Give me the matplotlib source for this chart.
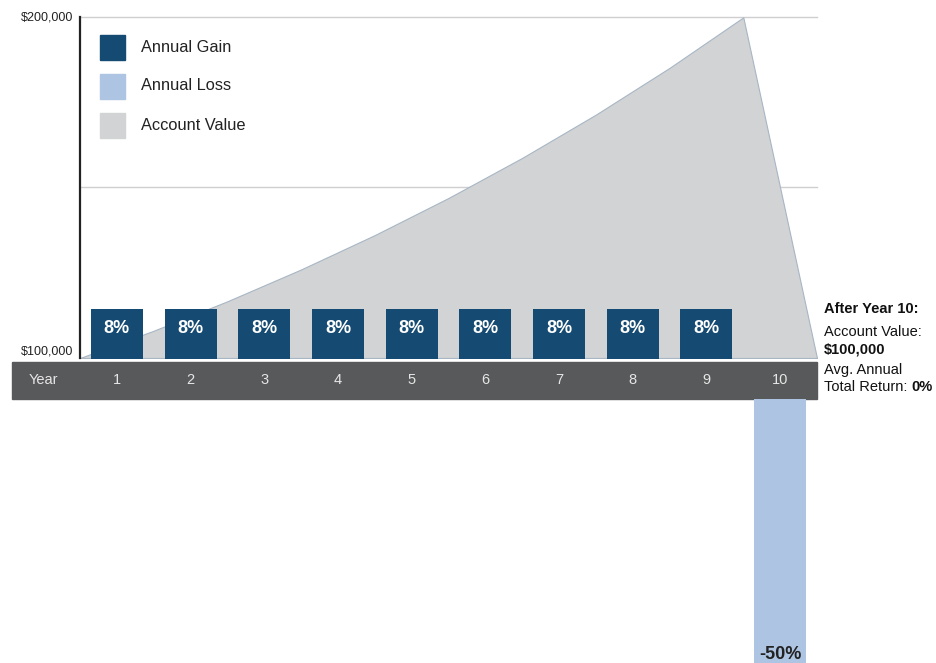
import matplotlib.pyplot as plt
import matplotlib.patches as mpatches
import numpy as np

plt.rcParams['font.family'] = ['Liberation Sans', 'DejaVu Sans']

# ── Data ──────────────────────────────────────────────────────────────────────
YEARS = [1, 2, 3, 4, 5, 6, 7, 8, 9, 10]
RETURNS = [8, 8, 8, 8, 8, 8, 8, 8, 8, -50]
ACCOUNT_VALUE = [100000, 108000, 116640, 125971, 136049, 146933,
                 158687, 171382, 185093, 199900, 99950]
Y_TICKS = [100000, 150000, 200000]
Y_TICK_LABELS = ["$100,000", "", "$200,000"]
LEGEND_LABELS = ["Annual Gain", "Annual Loss", "Account Value"]

GAIN_COLOR = "#154a72"
LOSS_COLOR = "#adc4e2"
AREA_COLOR = "#d1d3d5"
BAND_COLOR = "#58595b"

W, H = 937, 663
fig = plt.figure(figsize=(W / 100, H / 100), dpi=100)


def px_axes(x0, y0, x1, y1, **kw):
    """Axes placed by pixel box (top-left origin)."""
    return fig.add_axes([x0 / W, 1 - y1 / H, (x1 - x0) / W, (y1 - y0) / H], **kw)


# ── Account value area ────────────────────────────────────────────────────────
ax = px_axes(80, 17, 817, 358)
x_edges = np.arange(len(ACCOUNT_VALUE))
ax.fill_between(x_edges, Y_TICKS[0], ACCOUNT_VALUE, color=AREA_COLOR,
                edgecolor="#a8b6c4", linewidth=0.8, zorder=2)
ax.set_xlim(0, 10)
ax.set_ylim(100000, 200000)
for v in Y_TICKS[1:]:
    ax.axhline(v, color="#cfcfcf", linewidth=1.0, zorder=1, clip_on=False)
ax.set_xticks([])
ax.set_yticks([])
for s in ["top", "right", "bottom"]:
    ax.spines[s].set_visible(False)
ax.spines["left"].set_linewidth(1.6)
ax.spines["left"].set_color("#222222")
ax.patch.set_alpha(0)
ax.text(-0.09, Y_TICKS[0], Y_TICK_LABELS[0], ha="right", va="bottom",
        fontsize=9, color="#222222")
ax.text(-0.09, Y_TICKS[2], Y_TICK_LABELS[2], ha="right", va="center",
        fontsize=9, color="#222222")

# ── Year band and return bars (percent scale) ────────────────────────────────
bx = px_axes(80, 0, 817, H)
px_per_pct = 50 / 8
bx.set_xlim(0, 10)
bx.set_ylim(-(H - 359) / px_per_pct, 359 / px_per_pct)
bx.axis("off")
bx.patch.set_alpha(0)

band_top = -3 / px_per_pct
band_bot = -40 / px_per_pct
bx.add_patch(mpatches.Rectangle((-68 / 73.6, band_bot), 10 + 68 / 73.6,
                                band_top - band_bot, color=BAND_COLOR,
                                clip_on=False, zorder=1))
band_mid = (band_top + band_bot) / 2
bx.text(-37 / 73.6, band_mid, "Year", ha="center", va="center",
        color="#e6e6e6", fontsize=10.5)

centers = np.array(YEARS) - 0.5
for c, yr, r in zip(centers, YEARS, RETURNS):
    bx.text(c, band_mid, str(yr), ha="center", va="center",
            color="#e6e6e6", fontsize=10.5)
    if r > 0:
        bx.bar(c, r, width=52 / 73.6, bottom=0, color=GAIN_COLOR, zorder=3)
        bx.text(c, r - 1.7, f"{r}%", ha="center", va="top", color="white",
                fontsize=13, fontweight="bold", zorder=4)
    else:
        bx.bar(c, r, width=52 / 73.6, bottom=band_bot, color=LOSS_COLOR,
               zorder=3)
        bx.text(c, bx.get_ylim()[0], f"{r}%", ha="center",
                va="bottom", color="#222222", fontsize=13,
                fontweight="bold", zorder=4)

# ── Legend (square swatches) ─────────────────────────────────────────────────
for i, (lab, col) in enumerate(zip(LEGEND_LABELS,
                                   [GAIN_COLOR, LOSS_COLOR, AREA_COLOR])):
    yc = 47 + i * 39
    fig.add_artist(mpatches.Rectangle((100 / W, 1 - (yc + 12.5) / H),
                                      25 / W, 25 / H, color=col,
                                      transform=fig.transFigure))
    fig.text(141 / W, 1 - yc / H, lab, ha="left", va="center",
             fontsize=11.8, color="#222222")

# ── Summary text ──────────────────────────────────────────────────────────────
tx = 824 / W
kw = dict(fontsize=10.5, color="#111111", va="center", ha="left")
fig.text(tx, 1 - 309 / H, "After Year 10:", fontweight="bold", **kw)
fig.text(tx, 1 - 332 / H, "Account Value:", **kw)
fig.text(tx, 1 - 349 / H, "$100,000", fontweight="bold", **kw)
fig.text(tx, 1 - 370 / H, "Avg. Annual", **kw)
t = fig.text(tx, 1 - 387 / H, "Total Return: ", **kw)
fig.canvas.draw()
bb = t.get_window_extent()
fig.text(bb.x1 / W, 1 - 387 / H, "0%", fontweight="bold", **kw)

fig.savefig("out.png", dpi=100)
